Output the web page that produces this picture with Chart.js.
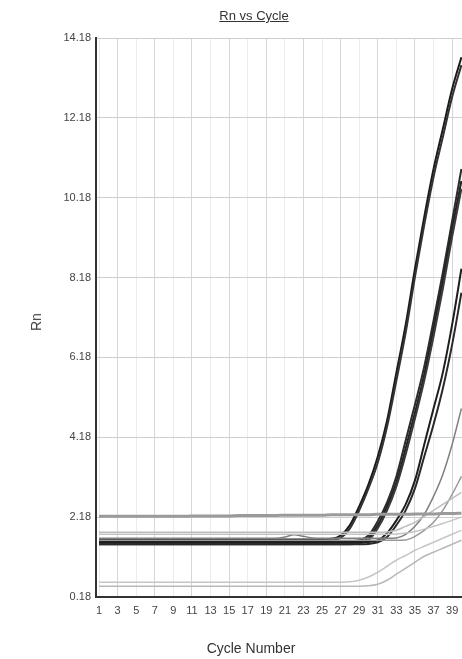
<!DOCTYPE html>
<html>
<head>
<meta charset="utf-8">
<script src="https://cdn.jsdelivr.net/npm/chart.js@4.4.0/dist/chart.umd.min.js"></script>
<style>
  html, body { margin: 0; padding: 0; background: #fff; overflow: hidden; width: 462px; height: 659px; }
  #wrap { position: absolute; left: 0; top: 0; width: 480px; height: 659px; }
  .lbl { position: absolute; font-family: "Liberation Sans", Arial, sans-serif; color: #333; white-space: nowrap; font-weight: normal; }
  #title { left: 254px; top: 8px; transform: translateX(-50%); font-size: 13px; text-decoration: underline; }
  #xtitle { left: 251px; top: 640px; transform: translateX(-50%); font-size: 14px; }
  #ytitle { left: 36px; top: 322px; transform: translate(-50%, -50%) rotate(-90deg); font-size: 14px; color: #444; }
</style>
</head>
<body>
<div id="wrap"><canvas id="chart" width="480" height="659"></canvas></div>
<div class="lbl" id="title">Rn vs Cycle</div>
<div class="lbl" id="ytitle">Rn</div>
<div class="lbl" id="xtitle">Cycle Number</div>
<script>
// cycle numbers and axis labels
const cycles = [1,2,3,4,5,6,7,8,9,10,11,12,13,14,15,16,17,18,19,20,21,22,23,24,25,26,27,28,29,30,31,32,33,34,35,36,37,38,39,40];
const xTicks = [1,3,5,7,9,11,13,15,17,19,21,23,25,27,29,31,33,35,37,39];
const yTicks = [0.18,2.18,4.18,6.18,8.18,10.18,12.18,14.18];

// dark amplification curves
const darkA1 = [1.62,1.62,1.62,1.62,1.62,1.62,1.62,1.62,1.62,1.62,1.62,1.62,1.62,1.62,1.62,1.62,1.62,1.62,1.62,1.62,1.62,1.62,1.62,1.62,1.63,1.64,1.72,1.98,2.45,3.0,3.7,4.6,5.8,7.0,8.4,9.7,10.9,11.9,12.9,13.7];
const darkA2 = [1.58,1.58,1.58,1.58,1.58,1.58,1.58,1.58,1.58,1.58,1.58,1.58,1.58,1.58,1.58,1.58,1.58,1.58,1.58,1.58,1.58,1.58,1.58,1.58,1.59,1.6,1.66,1.9,2.35,2.9,3.55,4.45,5.6,6.8,8.2,9.5,10.7,11.7,12.7,13.5];
const darkB1 = [1.56,1.56,1.56,1.56,1.56,1.56,1.56,1.56,1.56,1.56,1.56,1.56,1.56,1.56,1.56,1.56,1.56,1.56,1.56,1.56,1.56,1.56,1.56,1.56,1.56,1.56,1.56,1.57,1.6,1.72,2.08,2.55,3.2,4.1,5.0,5.95,7.1,8.3,9.6,10.9];
const darkB2 = [1.52,1.52,1.52,1.52,1.52,1.52,1.52,1.52,1.52,1.52,1.52,1.52,1.52,1.52,1.52,1.52,1.52,1.52,1.52,1.52,1.52,1.52,1.52,1.52,1.52,1.52,1.52,1.53,1.56,1.66,1.98,2.45,3.05,3.9,4.8,5.75,6.9,8.1,9.4,10.6];
const darkB3 = [1.5,1.5,1.5,1.5,1.5,1.5,1.5,1.5,1.5,1.5,1.5,1.5,1.5,1.5,1.5,1.5,1.5,1.5,1.5,1.5,1.5,1.5,1.5,1.5,1.5,1.5,1.5,1.5,1.53,1.6,1.9,2.35,2.95,3.75,4.65,5.6,6.7,7.9,9.2,10.4];
const darkC1 = [1.55,1.55,1.55,1.55,1.55,1.55,1.55,1.55,1.55,1.55,1.55,1.55,1.55,1.55,1.55,1.55,1.55,1.55,1.55,1.55,1.55,1.55,1.55,1.55,1.55,1.55,1.55,1.55,1.55,1.56,1.6,1.78,2.1,2.5,3.1,4.0,4.9,5.8,7.0,8.4];
const darkC2 = [1.5,1.5,1.5,1.5,1.5,1.5,1.5,1.5,1.5,1.5,1.5,1.5,1.5,1.5,1.5,1.5,1.5,1.5,1.5,1.5,1.5,1.5,1.5,1.5,1.5,1.5,1.5,1.5,1.5,1.51,1.55,1.68,1.98,2.35,2.9,3.7,4.5,5.4,6.5,7.8];

// grey curves
const greyG1 = [1.65,1.65,1.65,1.65,1.65,1.65,1.65,1.65,1.65,1.65,1.65,1.65,1.65,1.65,1.65,1.65,1.65,1.65,1.65,1.65,1.68,1.74,1.7,1.66,1.65,1.65,1.65,1.65,1.65,1.65,1.65,1.65,1.66,1.75,1.95,2.25,2.7,3.25,4.0,4.9];
const greyG2 = [1.6,1.6,1.6,1.6,1.6,1.6,1.6,1.6,1.6,1.6,1.6,1.6,1.6,1.6,1.6,1.6,1.6,1.6,1.6,1.6,1.6,1.6,1.6,1.6,1.6,1.6,1.6,1.6,1.6,1.6,1.6,1.6,1.6,1.61,1.7,1.85,2.05,2.35,2.75,3.2];
const greyFlat = [2.2,2.2,2.2,2.2,2.2,2.2,2.2,2.2,2.2,2.2,2.21,2.21,2.21,2.21,2.21,2.22,2.22,2.22,2.22,2.22,2.23,2.23,2.23,2.23,2.23,2.24,2.24,2.24,2.24,2.24,2.25,2.25,2.25,2.25,2.26,2.26,2.26,2.27,2.27,2.28];
const lightLG1 = [1.8,1.8,1.8,1.8,1.8,1.8,1.8,1.8,1.8,1.8,1.8,1.8,1.8,1.8,1.8,1.8,1.8,1.8,1.8,1.8,1.8,1.8,1.8,1.8,1.8,1.8,1.8,1.8,1.8,1.8,1.8,1.81,1.85,1.95,2.05,2.2,2.35,2.5,2.65,2.8];
const lightLG2 = [1.75,1.75,1.75,1.75,1.75,1.75,1.75,1.75,1.75,1.75,1.75,1.75,1.75,1.75,1.75,1.75,1.75,1.75,1.75,1.75,1.75,1.75,1.75,1.75,1.75,1.75,1.75,1.75,1.75,1.75,1.75,1.75,1.76,1.78,1.82,1.88,1.95,2.02,2.1,2.18];

// low baseline curves
const lowL1 = [0.55,0.55,0.55,0.55,0.55,0.55,0.55,0.55,0.55,0.55,0.55,0.55,0.55,0.55,0.55,0.55,0.55,0.55,0.55,0.55,0.55,0.55,0.55,0.55,0.55,0.55,0.55,0.56,0.6,0.68,0.8,0.95,1.1,1.22,1.35,1.45,1.55,1.65,1.75,1.85];
const lowL2 = [0.45,0.45,0.45,0.45,0.45,0.45,0.45,0.45,0.45,0.45,0.45,0.45,0.45,0.45,0.45,0.45,0.45,0.45,0.45,0.45,0.45,0.45,0.45,0.45,0.45,0.45,0.45,0.45,0.45,0.46,0.5,0.6,0.75,0.9,1.05,1.2,1.3,1.4,1.5,1.6];

function line(data, color, width) {
    return {
        data: data,
        borderColor: color,
        borderWidth: width,
        pointRadius: 0,
        fill: false,
        cubicInterpolationMode: 'monotone'
    };
}

const fontFam = '"Liberation Sans", Arial, sans-serif';

new Chart(document.getElementById('chart').getContext('2d'), {
    type: 'line',
    data: {
        labels: cycles,
        datasets: [
            line(greyFlat, '#9a9a9a', 3),
            line(lightLG2, '#c4c4c4', 1.5),
            line(lightLG1, '#bdbdbd', 1.5),
            line(lowL2, '#b8b8b8', 1.5),
            line(lowL1, '#c6c6c6', 1.5),
            line(greyG2, '#999999', 1.5),
            line(greyG1, '#808080', 1.5),
            line(darkC2, '#2a2a2a', 2),
            line(darkC1, '#1e1e1e', 2),
            line(darkB3, '#3a3a3a', 2),
            line(darkB2, '#222222', 2),
            line(darkB1, '#2c2c2c', 2),
            line(darkA2, '#333333', 2),
            line(darkA1, '#1a1a1a', 2)
        ]
    },
    options: {
        responsive: false,
        animation: false,
        layout: { padding: { top: 38, right: 0, left: 0, bottom: 0 } },
        plugins: { legend: { display: false }, tooltip: { enabled: false } },
        scales: {
            x: {
                type: 'linear',
                min: 0.67,
                max: 42,
                afterBuildTicks: (axis) => { axis.ticks = xTicks.map(v => ({ value: v })); },
                afterFit: (axis) => { axis.height = 62; },
                ticks: { color: '#444', font: { family: fontFam, size: 11 }, padding: 7, maxRotation: 0, autoSkip: false },
                grid: {
                    drawTicks: false,
                    color: (ctx) => (ctx.tick && (ctx.tick.value - 3) % 4 === 0) ? '#d6d6d6' : '#ececec',
                    lineWidth: 1
                },
                border: { color: '#333', width: 2 }
            },
            y: {
                min: 0.18,
                max: 14.18,
                afterBuildTicks: (axis) => { axis.ticks = yTicks.map(v => ({ value: v })); },
                afterFit: (axis) => { axis.width = 96; },
                ticks: { color: '#444', font: { family: fontFam, size: 11 }, padding: 5, callback: (v) => v.toFixed(2) },
                grid: { drawTicks: false, color: '#cfcfcf', lineWidth: 1 },
                border: { color: '#333', width: 2 }
            }
        }
    }
});
</script>
</body>
</html>
